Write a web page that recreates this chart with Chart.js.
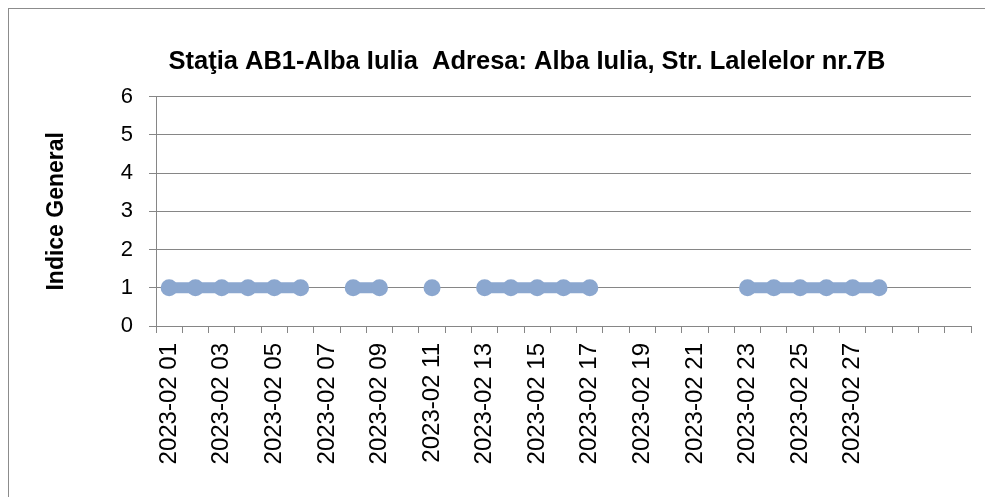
<!DOCTYPE html>
<html>
<head>
<meta charset="utf-8">
<script src="https://cdn.jsdelivr.net/npm/chart.js@4.4.1/dist/chart.umd.min.js"></script>
<style>
    html, body { margin: 0; padding: 0; background: #fff; }
    #wrap { position: relative; width: 985px; height: 497px; overflow: hidden; }
    #frame { position: absolute; left: 8px; top: 8px; width: 990px; height: 500px; border: 1px solid #8c8c8c; pointer-events: none; }
</style>
</head>
<body>
<div id="wrap">
    <canvas id="graficIndice" width="985" height="497"></canvas>
    <div id="frame"></div>
</div>
<script>
// Zilele lunii (ultimele 3 categorii sunt goale in original)
const zile = [
    '2023-02 01', '2023-02 02', '2023-02 03', '2023-02 04', '2023-02 05', '2023-02 06', '2023-02 07',
    '2023-02 08', '2023-02 09', '2023-02 10', '2023-02 11', '2023-02 12', '2023-02 13', '2023-02 14',
    '2023-02 15', '2023-02 16', '2023-02 17', '2023-02 18', '2023-02 19', '2023-02 20', '2023-02 21',
    '2023-02 22', '2023-02 23', '2023-02 24', '2023-02 25', '2023-02 26', '2023-02 27', '2023-02 28',
    '', '', ''
];
// Indice general pe zile (null = lipsa date)
const indiceGeneral = [
    1, 1, 1, 1, 1, 1, null,
    1, 1, null, 1, null, 1, 1,
    1, 1, 1, null, null, null, null,
    null, 1, 1, 1, 1, 1, 1,
    null, null, null
];
const titlu = 'Staţia AB1-Alba Iulia  Adresa: Alba Iulia, Str. Lalelelor nr.7B';
const titluAxaY = 'Indice General';

const font = "'Liberation Sans', Arial, sans-serif";
const gri = '#868686';
const albastru = '#8ba7cf';

new Chart(document.getElementById('graficIndice').getContext('2d'), {
    type: 'line',
    data: {
        labels: zile,
        datasets: [{
            label: 'Indice General',
            data: indiceGeneral,
            borderColor: albastru,
            backgroundColor: albastru,
            borderWidth: 11,
            pointRadius: 8.5,
            pointBorderWidth: 0,
            pointHoverRadius: 8.5,
            spanGaps: false,
            tension: 0
        }, {
            label: 'centru',
            data: indiceGeneral,
            showLine: false,
            pointRadius: 0.8,
            pointBorderWidth: 0,
            backgroundColor: '#34466a',
            borderColor: '#34466a'
        }]
    },
    options: {
        responsive: false,
        animation: false,
        devicePixelRatio: 1,
        // stanga mai mare ca titlul sa fie centrat ca in original
        layout: { padding: { left: 83, right: 14, top: 0, bottom: 0 } },
        plugins: {
            legend: { display: false },
            tooltip: { enabled: false },
            title: {
                display: true,
                text: titlu,
                color: '#000',
                font: { family: font, size: 25.5, weight: 'bold' },
                padding: { top: 47, bottom: 19 }
            }
        },
        scales: {
            x: {
                offset: true,
                grid: {
                    offset: true,
                    drawOnChartArea: false,
                    drawTicks: true,
                    tickLength: 7,
                    color: gri
                },
                border: { color: gri, width: 1 },
                ticks: {
                    autoSkip: false,
                    minRotation: 90,
                    maxRotation: 90,
                    padding: 10,
                    color: '#000',
                    font: { family: font, size: 24 },
                    callback: function (val, i) { return i % 2 === 0 ? zile[i] : ''; }
                },
                afterFit: function (scale) {
                    scale.height = 171;
                    scale.paddingLeft = 0;
                    scale.paddingRight = 0;
                }
            },
            y: {
                min: 0,
                max: 6,
                grid: { color: gri, tickLength: 7, drawTicks: true },
                border: { color: gri, width: 1 },
                ticks: {
                    stepSize: 1,
                    padding: 16,
                    color: '#000',
                    font: { family: font, size: 22 }
                },
                title: {
                    display: true,
                    text: titluAxaY,
                    color: '#000',
                    font: { family: font, size: 23, weight: 'bold' },
                    padding: { top: -40, bottom: 0 }
                },
                afterFit: function (scale) {
                    scale.width = 73;
                    scale.paddingTop = 0;
                    scale.paddingBottom = 0;
                }
            }
        }
    }
});
</script>
</body>
</html>
